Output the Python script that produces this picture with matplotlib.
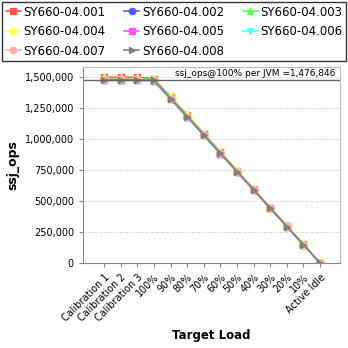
import matplotlib
matplotlib.use("Agg")
import matplotlib.pyplot as plt

loads = ["Calibration 1", "Calibration 2", "Calibration 3", "100%", "90%", "80%",
         "70%", "60%", "50%", "40%", "30%", "20%", "10%", "Active Idle"]

names = ["SY660-04.001", "SY660-04.002", "SY660-04.003", "SY660-04.004",
         "SY660-04.005", "SY660-04.006", "SY660-04.007", "SY660-04.008"]

s001 = [1497000, 1497000, 1496000, 1486000, 1337000, 1192000, 1043000, 893000, 745000, 596000, 447000, 299000, 150000, 0]
s002 = [1478000, 1476000, 1477000, 1468000, 1322000, 1177000, 1030000, 882000, 735000, 588000, 441000, 294000, 147000, 0]
s003 = [1486000, 1486000, 1485000, 1480000, 1333000, 1187000, 1040000, 891000, 742000, 594000, 445000, 297000, 149000, 0]
s004 = [1480000, 1481000, 1480000, 1474000, 1327000, 1181000, 1034000, 886000, 738000, 591000, 443000, 295000, 148000, 0]
s005 = [1472000, 1473000, 1472000, 1467000, 1320000, 1175000, 1028000, 881000, 734000, 587000, 440000, 293000, 147000, 0]
s006 = [1470000, 1471000, 1470000, 1465000, 1319000, 1174000, 1026000, 880000, 733000, 586000, 439000, 292000, 146000, 0]
s007 = [1479000, 1480000, 1479000, 1473000, 1326000, 1180000, 1033000, 885000, 737000, 590000, 442000, 295000, 148000, 0]
s008 = [1477000, 1478000, 1477000, 1472000, 1325000, 1179000, 1032000, 884000, 737000, 589000, 442000, 294000, 147000, 0]
series = [s001, s002, s003, s004, s005, s006, s007, s008]

colors = ["#ff5555", "#5555ff", "#55ff55", "#ffff55", "#ff55ff", "#55ffff", "#ffafaf", "#808080"]
markers = ["s", "o", "^", "D", "s", "v", "o", ">"]

ref = 1476846

fig = plt.figure(figsize=(3.48, 3.48), dpi=100)
ax = fig.add_axes([83/348, 1 - 263/348, (340 - 83)/348, (263 - 67)/348])

x = list(range(len(loads)))
lines = []
for vals, name, c, m in zip(series, names, colors, markers):
    ln, = ax.plot(x, vals, color=c, marker=m, markersize=5, linewidth=1.2, label=name)
    lines.append(ln)

ax.axhline(ref, color="#666666", linewidth=1)
ax.text(13.95, ref + 15000, "ssj_ops@100% per JVM =1,476,846", ha="right", va="bottom", fontsize=6.5)

ax.set_xlim(-1.28, 14.2)
ax.set_ylim(0, 1580000)
ax.set_yticks([0, 250000, 500000, 750000, 1000000, 1250000, 1500000])
ax.set_yticklabels(["0", "250,000", "500,000", "750,000", "1,000,000", "1,250,000", "1,500,000"], fontsize=7)
ax.set_xticks(x)
ax.set_xticklabels(loads, rotation=45, ha="right", rotation_mode="anchor", fontsize=7)
ax.yaxis.grid(True, color="#dddddd", linestyle="--", linewidth=0.7)
ax.set_axisbelow(True)
for side in ["top", "right"]:
    ax.spines[side].set_color("#bbbbbb")
for side in ["left", "bottom"]:
    ax.spines[side].set_color("#888888")
ax.tick_params(colors="#888888", labelcolor="black", length=3)

ax.set_ylabel("ssj_ops", fontsize=9, fontweight="bold")
ax.set_xlabel("Target Load", fontsize=8.5, fontweight="bold")

# legend is filled column by column, so reorder to read row by row
order = [0, 3, 6, 1, 4, 7, 2, 5]
leg = fig.legend([lines[i] for i in order], [names[i] for i in order],
                 loc="upper left", bbox_to_anchor=(2/348, 1 - 62/348, 344/348, 60/348),
                 mode="expand", ncol=3, fontsize=8.5, frameon=True, fancybox=False,
                 handlelength=1.3, handletextpad=0.2, borderaxespad=0, columnspacing=0.3,
                 labelspacing=0.55, borderpad=0.3, markerscale=0.9)
leg.get_frame().set_edgecolor("black")
leg.get_frame().set_linewidth(1)

fig.savefig("out.png", dpi=100)
